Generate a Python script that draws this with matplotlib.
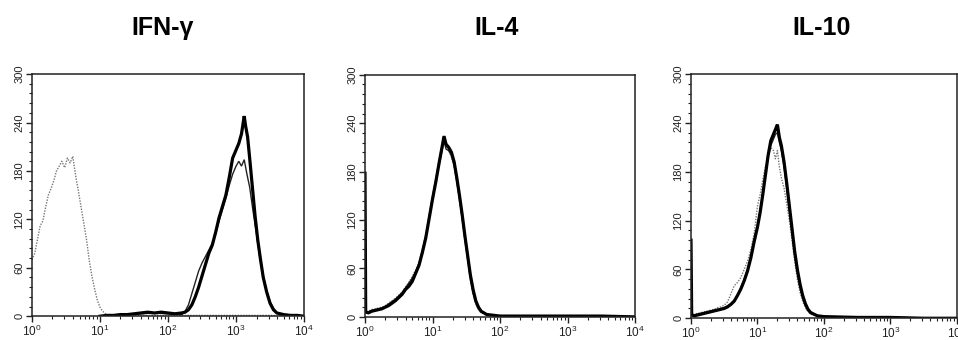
import numpy as np
import matplotlib
matplotlib.use("Agg")
import matplotlib.pyplot as plt
from matplotlib.ticker import MultipleLocator, LogLocator, NullFormatter

# ---- data (log10 fluorescence position, event count) ----
titles = ["IFN-\u03b3", "IL-4", "IL-10"]

# IFN-gamma panel
ifn_ctrl_x = [0.00, 0.04, 0.08, 0.12, 0.16, 0.20, 0.24, 0.28, 0.32, 0.36, 0.40, 0.44,
              0.48, 0.52, 0.56, 0.60, 0.64, 0.68, 0.72, 0.76, 0.80, 0.84, 0.88, 0.92,
              0.96, 1.00, 1.04, 1.08, 1.12, 1.5, 2.0, 2.5, 3.0, 3.5, 4.0]
ifn_ctrl_y = [70, 78, 95, 112, 118, 135, 150, 158, 168, 180, 186, 192,
              184, 196, 190, 198, 175, 156, 136, 116, 96, 70, 50, 34,
              20, 11, 6, 3, 1, 1, 1, 1, 1, 1, 0]
ifn_thin_x = [1.0, 1.2, 1.4, 1.6, 1.8, 2.0, 2.20, 2.25, 2.30, 2.35, 2.40, 2.45, 2.50,
              2.55, 2.60, 2.65, 2.70, 2.75, 2.80, 2.85, 2.90, 2.95, 3.00, 3.04, 3.08,
              3.12, 3.16, 3.20, 3.25, 3.30, 3.35, 3.40, 3.45, 3.50, 3.55, 3.60, 3.70, 4.0]
ifn_thin_y = [0, 1, 2, 3, 4, 3, 2, 6, 14, 28, 42, 56, 66,
              74, 82, 90, 102, 118, 132, 146, 162, 176, 186, 192, 186,
              194, 176, 160, 130, 102, 72, 50, 32, 18, 10, 4, 1, 0]
ifn_thick_x = [1.0, 1.1, 1.2, 1.3, 1.4, 1.5, 1.6, 1.7, 1.8, 1.9, 2.0, 2.1, 2.2, 2.25,
               2.30, 2.35, 2.40, 2.45, 2.50, 2.55, 2.60, 2.65, 2.70, 2.75, 2.80, 2.85,
               2.90, 2.95, 3.00, 3.04, 3.08, 3.12, 3.14, 3.17, 3.20, 3.24, 3.28, 3.32,
               3.36, 3.40, 3.45, 3.50, 3.55, 3.60, 3.70, 3.80, 3.90, 4.0]
ifn_thick_y = [0, 1, 1, 2, 2, 3, 4, 5, 4, 5, 4, 3, 4, 5,
               8, 14, 24, 36, 50, 64, 78, 88, 104, 122, 136, 150,
               172, 196, 206, 214, 226, 248, 236, 222, 196, 160, 124, 94,
               70, 48, 30, 16, 8, 4, 2, 1, 1, 0]

# IL-4 panel
il4_x = [0.00, 0.01, 0.05, 0.10, 0.15, 0.20, 0.25, 0.30, 0.35, 0.40, 0.45, 0.50,
         0.55, 0.60, 0.65, 0.70, 0.75, 0.80, 0.85, 0.90, 0.95, 1.00, 1.05, 1.10,
         1.14, 1.17, 1.20, 1.24, 1.28, 1.32, 1.36, 1.40, 1.44, 1.48, 1.52, 1.56,
         1.60, 1.64, 1.68, 1.72, 1.80, 1.90, 2.0, 2.5, 3.0, 3.5, 4.0]
il4_thick_y = [178, 6, 5, 7, 8, 9, 10, 12, 14, 17, 20, 24,
               28, 34, 38, 44, 54, 64, 80, 98, 122, 146, 168, 192,
               210, 224, 214, 210, 204, 192, 172, 150, 126, 100, 76, 52,
               34, 20, 12, 7, 3, 2, 1, 1, 1, 1, 0]
il4_thin_y = [120, 5, 6, 8, 9, 10, 11, 13, 16, 19, 22, 26,
              30, 36, 42, 48, 56, 66, 82, 100, 124, 148, 170, 190,
              206, 218, 208, 206, 200, 188, 168, 146, 122, 96, 72, 48,
              30, 18, 10, 6, 3, 2, 1, 1, 1, 1, 0]
il4_ctrl_y = [60, 6, 7, 9, 10, 11, 12, 14, 17, 20, 23, 27,
              31, 37, 43, 50, 58, 68, 84, 102, 126, 150, 172, 196,
              212, 218, 212, 206, 198, 186, 166, 144, 120, 94, 70, 46,
              28, 16, 9, 5, 3, 2, 1, 1, 1, 1, 0]

# IL-10 panel
il10_x = [0.00, 0.01, 0.05, 0.10, 0.15, 0.20, 0.25, 0.30, 0.35, 0.40, 0.45, 0.50,
          0.55, 0.60, 0.65, 0.70, 0.75, 0.80, 0.85, 0.90, 0.95, 1.00, 1.04, 1.08,
          1.12, 1.16, 1.20, 1.24, 1.27, 1.30, 1.33, 1.36, 1.40, 1.44, 1.48, 1.52,
          1.56, 1.60, 1.64, 1.68, 1.72, 1.76, 1.80, 1.90, 2.0, 2.5, 3.0, 3.5, 4.0]
il10_thick_y = [96, 4, 3, 4, 5, 6, 7, 8, 9, 10, 11, 12,
                14, 17, 21, 28, 36, 46, 58, 74, 94, 112, 130, 152,
                176, 200, 218, 226, 232, 238, 222, 212, 192, 166, 138, 110,
                82, 60, 42, 28, 18, 11, 7, 3, 2, 1, 1, 0, 0]
il10_thin_y = [70, 4, 4, 5, 6, 7, 8, 9, 10, 11, 12, 13,
               15, 18, 22, 29, 37, 48, 60, 76, 96, 114, 132, 154,
               178, 198, 212, 220, 226, 228, 216, 206, 186, 160, 132, 104,
               78, 56, 38, 25, 16, 10, 6, 3, 2, 1, 1, 0, 0]
il10_ctrl_y = [50, 4, 5, 6, 7, 8, 9, 10, 11, 13, 14, 16,
               20, 30, 40, 44, 50, 60, 70, 84, 104, 138, 152, 170,
               186, 198, 210, 206, 196, 206, 186, 172, 160, 140, 120, 96,
               70, 48, 32, 21, 13, 8, 5, 3, 2, 1, 1, 0, 0]

panels = [
    [(ifn_ctrl_x, ifn_ctrl_y, "ctrl"), (ifn_thin_x, ifn_thin_y, "thin"), (ifn_thick_x, ifn_thick_y, "thick")],
    [(il4_x, il4_ctrl_y, "ctrl"), (il4_x, il4_thin_y, "thin"), (il4_x, il4_thick_y, "thick")],
    [(il10_x, il10_ctrl_y, "ctrl"), (il10_x, il10_thin_y, "thin"), (il10_x, il10_thick_y, "thick")],
]

styles = {
    "ctrl": dict(color="#777777", lw=1.0, ls=(0, (1, 1))),
    "thin": dict(color="#222222", lw=1.0, ls="-"),
    "thick": dict(color="black", lw=2.3, ls="-"),
}

# axes rectangles in figure fractions [left, bottom, width, height]
rects = [
    [0.0334, 0.070, 0.284, 0.712],
    [0.3810, 0.068, 0.282, 0.712],
    [0.7213, 0.064, 0.2775, 0.718],
]
title_x = [163, 497, 822]

plt.rcParams["font.family"] = ["Liberation Sans", "DejaVu Sans"]

fig = plt.figure(figsize=(9.58, 3.40), dpi=100)

for rect, curves, title, tx in zip(rects, panels, titles, title_x):
    ax = fig.add_axes(rect)
    for xs, ys, kind in curves:
        ax.plot(10 ** np.array(xs), ys, solid_joinstyle="miter", **styles[kind])
    ax.set_xscale("log")
    ax.set_xlim(1, 1e4)
    ax.set_ylim(0, 300)
    ax.yaxis.set_major_locator(MultipleLocator(60))
    ax.yaxis.set_minor_locator(MultipleLocator(12))
    ax.xaxis.set_major_locator(LogLocator(base=10, numticks=10))
    ax.xaxis.set_minor_locator(LogLocator(base=10, subs=np.arange(2, 10), numticks=20))
    ax.xaxis.set_minor_formatter(NullFormatter())
    ax.tick_params(axis="both", which="major", direction="out", length=4, width=1,
                   colors="#222222", pad=1.5)
    ax.tick_params(axis="both", which="minor", direction="out", length=2.5, width=0.8,
                   colors="#222222")
    ax.tick_params(axis="y", labelsize=8, labelrotation=90)
    ax.tick_params(axis="x", labelsize=8.5)
    for lab in ax.get_yticklabels():
        lab.set_verticalalignment("center")
    for sp in ax.spines.values():
        sp.set_linewidth(1.1)
        sp.set_color("#222222")
    fig.text(tx / 958, 1 - 35 / 340, title, ha="center", va="baseline",
             fontsize=18, fontweight="bold")

fig.savefig("out.png", dpi=100)
